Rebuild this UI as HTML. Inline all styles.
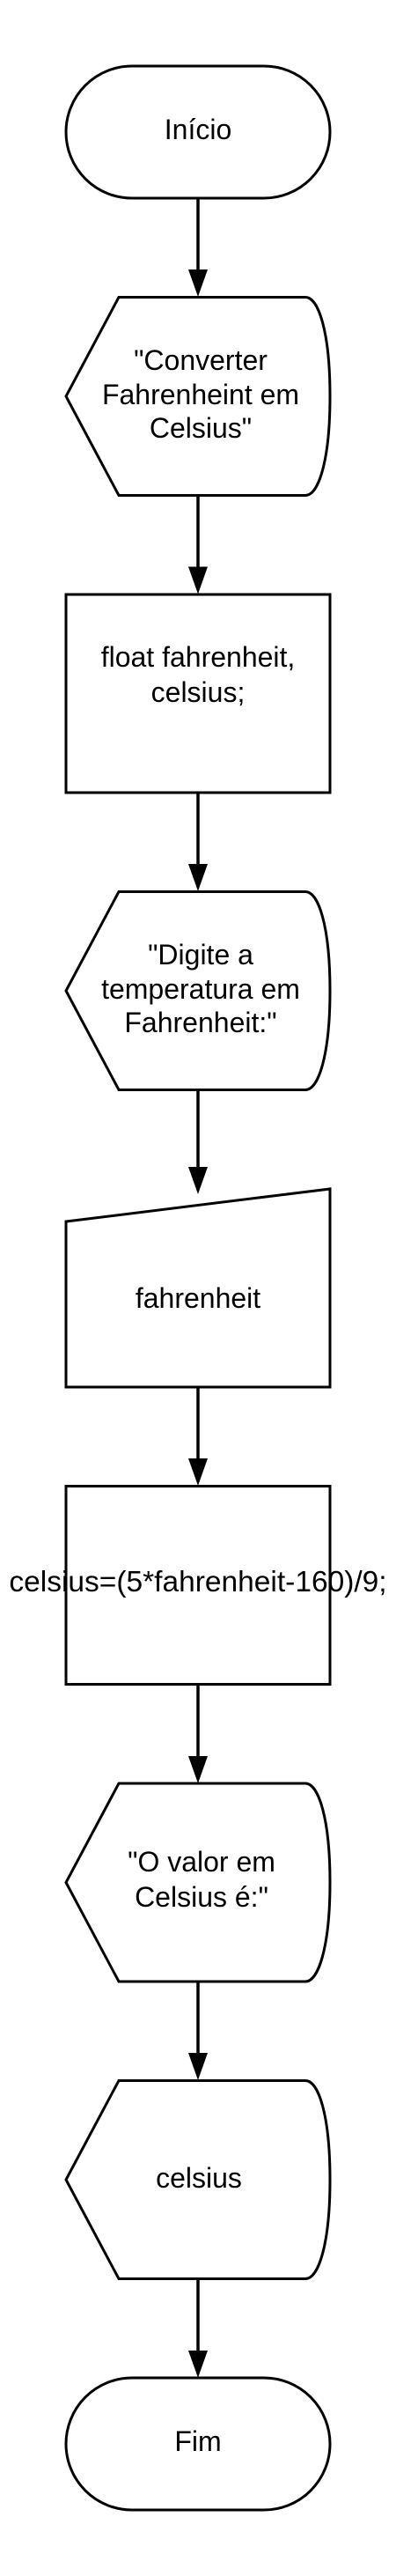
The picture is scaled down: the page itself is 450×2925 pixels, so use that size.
<!DOCTYPE html>
<html><head><meta charset="utf-8"><style>
html,body{margin:0;padding:0;background:#fff;}
svg{display:block;}
text{font-family:"Liberation Sans",Arial,sans-serif;font-size:32px;fill:#000;}
</style></head><body>
<svg width="450" height="2925" viewBox="0 0 450 2925" xmlns="http://www.w3.org/2000/svg">
<g fill="#fff" stroke="#000" stroke-width="3">
<rect x="75" y="75" width="300" height="150" rx="75" ry="75"/>
<path d="M135,337.5 L347,337.5 C362,337.5 375,377 375,450 C375,523 362,562.5 347,562.5 L135,562.5 L75,450 Z"/>
<rect x="75" y="675" width="300" height="225"/>
<path d="M135,1012.5 L347,1012.5 C362,1012.5 375,1052 375,1125 C375,1198 362,1237.5 347,1237.5 L135,1237.5 L75,1125 Z"/>
<path d="M75,1387 L375,1350 L375,1575 L75,1575 Z"/>
<rect x="75" y="1687.5" width="300" height="225"/>
<path d="M135,2025 L347,2025 C362,2025 375,2065 375,2137.5 C375,2210 362,2250 347,2250 L135,2250 L75,2137.5 Z"/>
<path d="M135,2362.5 L347,2362.5 C362,2362.5 375,2402 375,2475 C375,2548 362,2587.5 347,2587.5 L135,2587.5 L75,2475 Z"/>
<rect x="75" y="2700" width="300" height="150" rx="75" ry="75"/>
</g>
<g stroke="#000" stroke-width="3.5">
<line x1="225" y1="225" x2="225" y2="310"/>
<line x1="225" y1="562.5" x2="225" y2="648"/>
<line x1="225" y1="900" x2="225" y2="985"/>
<line x1="225" y1="1237.5" x2="225" y2="1330"/>
<line x1="225" y1="1575" x2="225" y2="1660"/>
<line x1="225" y1="1912.5" x2="225" y2="1998"/>
<line x1="225" y1="2250" x2="225" y2="2335"/>
<line x1="225" y1="2587.5" x2="225" y2="2673"/>
</g>
<g fill="#000">
<polygon points="214,306 236,306 225,337"/>
<polygon points="214,643.5 236,643.5 225,674.5"/>
<polygon points="214,981 236,981 225,1012"/>
<polygon points="214,1325 236,1325 225,1356"/>
<polygon points="214,1656 236,1656 225,1687"/>
<polygon points="214,1994 236,1994 225,2025"/>
<polygon points="214,2331 236,2331 225,2362"/>
<polygon points="214,2669 236,2669 225,2700"/>
</g>
<g text-anchor="middle">
<text x="225" y="158">Início</text>
<text x="228" y="420">"Converter</text>
<text x="228" y="459">Fahrenheint em</text>
<text x="228" y="497">Celsius"</text>
<text x="225" y="757">float fahrenheit,</text>
<text x="225" y="797">celsius;</text>
<text x="228" y="1095">"Digite a</text>
<text x="228" y="1134">temperatura em</text>
<text x="228" y="1172">Fahrenheit:"</text>
<text x="225" y="1485">fahrenheit</text>
<text x="225" y="1807" style="font-size:33.5px">celsius=(5*fahrenheit-160)/9;</text>
<text x="229" y="2125">"O valor em</text>
<text x="229" y="2165">Celsius é:"</text>
<text x="226" y="2484">celsius</text>
<text x="225" y="2783">Fim</text>
</g>
</svg>
</body></html>
